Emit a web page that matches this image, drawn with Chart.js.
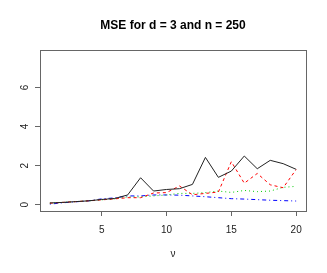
<!DOCTYPE html>
<html lang="en">
  <head>
    <meta charset="UTF-8" />
    <title>MSE for d = 3 and n = 250</title>
    <script src="https://cdn.jsdelivr.net/npm/chart.js"></script>
    <style>
      body { margin: 0; background: #fff; }
      #wrap { width: 327px; height: 273px; position: relative; }
    </style>
  </head>
  <body>
    <div id="wrap"><canvas id="mseChart"></canvas></div>

    <script>
      const nu = [1, 2, 3, 4, 5, 6, 7, 8, 9, 10, 11, 12, 13, 14, 15, 16, 17, 18, 19, 20];
      const mseBlack = [0.09, 0.12, 0.16, 0.2, 0.27, 0.32, 0.5, 1.38, 0.7, 0.78, 0.82, 1.04, 2.42, 1.4, 1.72, 2.49, 1.84, 2.27, 2.1, 1.81];
      const mseRed = [0.08, 0.12, 0.16, 0.2, 0.25, 0.3, 0.36, 0.36, 0.6, 0.62, 0.96, 0.51, 0.58, 0.65, 2.2, 1.1, 1.6, 1.02, 0.87, 1.8];
      const mseGreen = [0.08, 0.12, 0.16, 0.2, 0.25, 0.3, 0.4, 0.4, 0.45, 0.5, 0.58, 0.58, 0.62, 0.7, 0.63, 0.73, 0.67, 0.7, 0.89, 0.94];
      const mseBlue = [0.03, 0.1, 0.15, 0.2, 0.3, 0.35, 0.45, 0.45, 0.5, 0.5, 0.49, 0.45, 0.41, 0.36, 0.31, 0.29, 0.26, 0.23, 0.21, 0.19];
      const xTicks = [5, 10, 15, 20];
      const yTicks = [0, 2, 4, 6];

      const toPoints = (ys) => nu.map((x, i) => ({ x, y: ys[i] }));

      function series(data, color, dash) {
        return {
          data: toPoints(data),
          borderColor: color,
          borderWidth: 1,
          borderDash: dash,
          pointRadius: 0,
          tension: 0,
          fill: false,
        };
      }

      // box, y labels (rotated like R), title and axis label
      const rDecor = {
        id: "rDecor",
        afterDraw(chart) {
          const { ctx, chartArea: a, scales } = chart;
          ctx.save();
          ctx.strokeStyle = "#666";
          ctx.lineWidth = 1;
          ctx.strokeRect(a.left + 0.5, a.top + 0.5, a.right - a.left, a.bottom - a.top);

          ctx.fillStyle = "#222";
          ctx.font = "10px 'Liberation Sans Narrow', 'Liberation Sans', sans-serif";
          ctx.textAlign = "center";
          ctx.textBaseline = "middle";
          yTicks.forEach((v) => {
            const y = scales.y.getPixelForValue(v);
            ctx.save();
            ctx.translate(25, y);
            ctx.rotate(-Math.PI / 2);
            ctx.fillText(String(v), 0, 0);
            ctx.restore();
          });

          ctx.fillText("ν", 173, 254);

          ctx.fillStyle = "#000";
          ctx.font = "bold 12px 'Liberation Sans Narrow', 'Liberation Sans', sans-serif";
          ctx.fillText("MSE for d = 3 and n = 250", 173, 26);
          ctx.restore();
        },
      };

      new Chart(document.getElementById("mseChart"), {
        type: "line",
        data: {
          datasets: [
            series(mseBlack, "#222", []),
            series(mseRed, "#ff0000", [3, 3]),
            series(mseGreen, "#00cd00", [1, 3]),
            series(mseBlue, "#0000ff", [1, 3, 4, 3]),
          ],
        },
        options: {
          responsive: true,
          maintainAspectRatio: false,
          animation: false,
          layout: { padding: { top: 50, right: 21, left: 0, bottom: 0 } },
          plugins: { legend: { display: false }, tooltip: { enabled: false } },
          scales: {
            x: {
              type: "linear",
              min: 0.24,
              max: 20.76,
              afterBuildTicks: (s) => { s.ticks = xTicks.map((v) => ({ value: v })); },
              afterFit: (s) => { s.height = 62; },
              grid: { drawOnChartArea: false, drawTicks: true, tickLength: 5, color: "#666" },
              border: { display: false },
              ticks: {
                color: "#222",
                padding: 8,
                maxRotation: 0,
                font: { family: "'Liberation Sans Narrow', 'Liberation Sans', sans-serif", size: 10 },
              },
            },
            y: {
              type: "linear",
              min: -0.32,
              max: 7.91,
              afterBuildTicks: (s) => { s.ticks = yTicks.map((v) => ({ value: v })); },
              afterFit: (s) => { s.width = 40; },
              grid: { drawOnChartArea: false, drawTicks: true, tickLength: 5, color: "#666" },
              border: { display: false },
              ticks: { display: false },
            },
          },
        },
        plugins: [rDecor],
      });
    </script>
  </body>
</html>
